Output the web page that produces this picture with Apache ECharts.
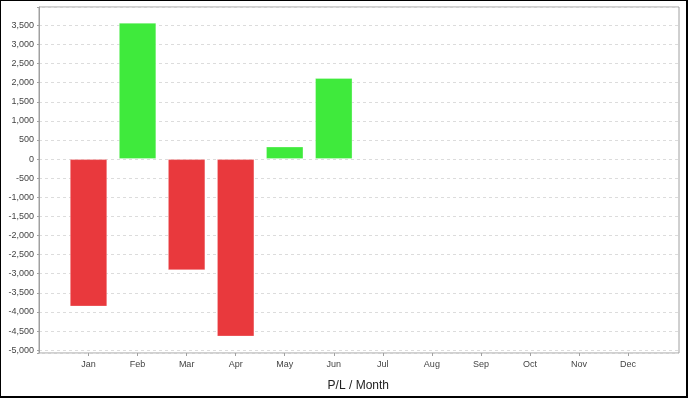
<!DOCTYPE html>
<html>
<head>
<meta charset="utf-8">
<script src="https://cdn.jsdelivr.net/npm/echarts@6/dist/echarts.min.js"></script>
<style>
  html, body { margin: 0; padding: 0; background: #fff; }
  #chart { position: absolute; left: 0; top: 0; width: 688px; height: 398px; }
  #frame { position: absolute; left: 0; top: 0; width: 685px; height: 395px;
           border-left: 1px solid #000; border-top: 1px solid #000;
           border-right: 2px solid #000; border-bottom: 2px solid #000; pointer-events: none; }
</style>
</head>
<body>
<div id="chart"></div>
<div id="frame"></div>
<script>
const months = ['Jan','Feb','Mar','Apr','May','Jun','Jul','Aug','Sep','Oct','Nov','Dec'];
const pl = [-3860, 3570, -2910, -4645, 330, 2125, null, null, null, null, null, null];
const axisTitle = 'P/L / Month';
const yMin = -5075;
const yMax = 3980;

const RED = '#e9393d';
const GREEN = '#3fea3c';
const LABEL_FONT = 'Liberation Sans, Arial, sans-serif';

const chart = echarts.init(document.getElementById('chart'));
chart.setOption({
  animation: false,
  backgroundColor: '#fff',
  grid: [
    { left: 39, top: 7, width: 640, height: 346, outerBoundsMode: 'none', containLabel: false,
      show: true, borderColor: '#a0a0a0', borderWidth: 1, backgroundColor: '#fff' },
    { left: 64, top: 7, width: 588.6, height: 346, outerBoundsMode: 'none', containLabel: false }
  ],
  xAxis: [
    { gridIndex: 0, type: 'category', data: months, show: false },
    {
      gridIndex: 1, type: 'category', data: months,
      boundaryGap: true,
      axisLine: { show: false, onZero: false },
      axisTick: { show: true, alignWithLabel: true, length: 3, lineStyle: { color: '#a0a0a0' } },
      axisLabel: { fontSize: 9, color: '#444', margin: 7, fontFamily: LABEL_FONT },
      name: axisTitle, nameLocation: 'middle', nameGap: 27,
      nameTextStyle: { fontSize: 12, color: '#222', fontFamily: LABEL_FONT }
    }
  ],
  yAxis: [
    {
      gridIndex: 0, type: 'value', min: yMin, max: yMax, splitNumber: 18,
      axisLine: { show: true, lineStyle: { color: '#a0a0a0' } },
      axisTick: { show: true, length: 2, lineStyle: { color: '#a0a0a0' } },
      axisLabel: {
        fontSize: 9, color: '#444', margin: 5, fontFamily: LABEL_FONT,
        formatter: v => (Math.round(v) % 500 === 0 ? Math.round(v).toLocaleString('en-US') : '')
      },
      splitLine: { show: true, lineStyle: { color: '#dcdcdc', type: [3, 3], width: 1 } }
    },
    { gridIndex: 1, type: 'value', min: yMin, max: yMax, splitNumber: 18, show: false, splitLine: { show: false } }
  ],
  series: [{
    type: 'bar',
    xAxisIndex: 1, yAxisIndex: 1,
    data: pl,
    barWidth: 37.5,
    itemStyle: {
      color: p => (p.value < 0 ? RED : GREEN),
      borderColor: 'rgba(255,255,255,0.3)',
      borderWidth: 1
    }
  }]
});
</script>
</body>
</html>
